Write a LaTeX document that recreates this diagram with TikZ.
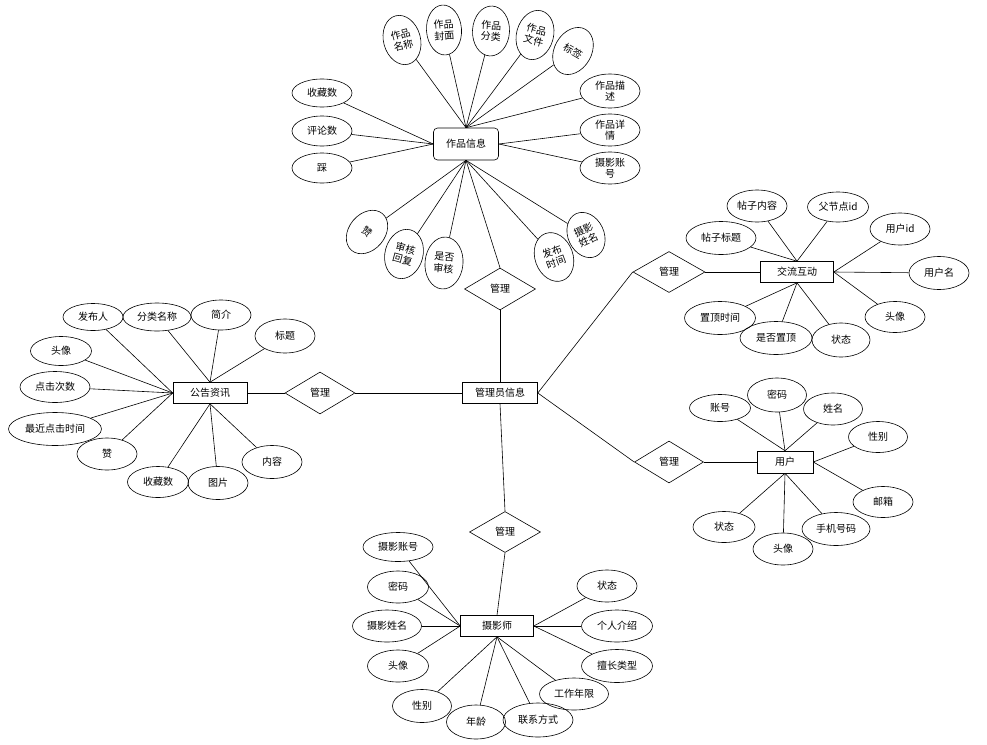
\documentclass[tikz,border=0pt]{standalone}
\usepackage{fontspec}
\setmainfont{Noto Sans CJK SC}
\usetikzlibrary{shapes.geometric}
\begin{document}
\begin{tikzpicture}[x=1pt,y=-1pt,line width=0.6pt,
  txt/.style={font=\fontsize{10}{11.5}\selectfont},
  attr/.style={txt,draw,ellipse,inner sep=0pt,minimum width=60pt,minimum height=32pt,align=center},
  vattr/.style={attr,minimum width=37pt,minimum height=50pt},
  ent/.style={txt,draw,rectangle,inner sep=0pt,minimum width=73pt,minimum height=21pt},
  rel/.style={txt,draw,diamond,inner sep=0pt,minimum width=71pt,minimum height=42pt}]
\fill[white] (0,0) rectangle (987,744);
\useasboundingbox (0,0) rectangle (987,744);

% ---------- 作品信息 ----------
\node[ent,rounded corners=4pt,minimum width=65pt,minimum height=32pt] (work) at (466,144) {作品信息};
\node[vattr,rotate=15] (w1) at (402,40) {作品\\名称};
\node[vattr,minimum width=35pt,rotate=4] (w2) at (444,30) {作品\\封面};
\node[vattr,rotate=-3] (w3) at (491,31) {作品\\分类};
\node[vattr,rotate=-15] (w4) at (535,35) {作品\\文件};
\node[vattr,rotate=-30] (w5) at (573,51) {标签};
\node[attr,minimum height=34pt] (w6) at (610,91) {作品描\\述};
\node[attr,minimum height=32pt] (w7) at (610,130) {作品详\\情};
\node[attr,minimum height=32pt] (w8) at (610,168) {摄影账\\号};
\node[attr,minimum height=28pt] (w9) at (322,93) {收藏数};
\node[attr,minimum height=30pt] (w10) at (322,131) {评论数};
\node[attr,minimum height=30pt] (w11) at (322,168) {踩};
\node[vattr,minimum width=36pt,minimum height=48pt,rotate=-40] (w12) at (367,232) {赞};
\node[vattr,minimum width=38pt,rotate=-15] (w13) at (404,254) {审核\\回复};
\node[vattr,minimum width=38pt,minimum height=52pt,rotate=-5] (w14) at (444,263) {是否\\审核};
\node[vattr,minimum width=38pt,rotate=20] (w15) at (554,257) {发布\\时间};
\node[vattr,minimum width=36pt,minimum height=47pt,rotate=25] (w16) at (586,235) {摄影\\姓名};
\foreach \n in {w1,w2,w3,w4,w5,w6} \draw (\n) -- (work.north);
\foreach \n in {w9,w10,w11} \draw (\n) -- (work.west);
\foreach \n in {w7,w8} \draw (\n) -- (work.east);
\foreach \n in {w12,w13,w14,w15,w16} \draw (\n) -- (work.south);

% ---------- 管理员信息 and relations ----------
\node[ent,minimum width=75pt] (admin) at (500,393) {管理员信息};
\node[rel] (m1) at (500,289) {管理};
\node[rel,minimum width=70pt] (m2) at (320,393) {管理};
\node[rel,minimum width=72pt,minimum height=41pt] (m3) at (669,272) {管理};
\node[rel,minimum width=69pt] (m4) at (669,462) {管理};
\node[rel,minimum height=41pt] (m5) at (505,532) {管理};
\draw (work.south) -- (m1.north);
\draw (m1.south) -- (admin.north);
\draw (admin.west) -- (m2.east);
\draw (admin.east) -- (m3.west);
\draw (admin.east) -- (m4.west);
\draw (admin.south) -- (m5.north);

% ---------- 公告资讯 ----------
\node[ent,minimum width=74pt] (news) at (210,393) {公告资讯};
\draw (m2.west) -- (news.east);
\node[attr,minimum height=27pt] (n1) at (93,317) {发布人};
\node[attr,minimum width=68pt,minimum height=28pt] (n2) at (157,317) {分类名称};
\node[attr,minimum height=30pt] (n3) at (221,315) {简介};
\node[attr,minimum height=34pt] (n4) at (285,336) {标题};
\node[attr,minimum width=61pt,minimum height=29pt] (n5) at (61,351) {头像};
\node[attr,minimum width=70pt,minimum height=31pt] (n6) at (55,387) {点击次数};
\node[attr,minimum width=93pt,minimum height=33pt] (n7) at (55,429) {最近点击时间};
\node[attr,minimum height=32pt] (n8) at (107,454) {赞};
\node[attr,minimum width=61pt,minimum height=31pt] (n9) at (158,482) {收藏数};
\node[attr,minimum height=33pt] (n10) at (218,483) {图片};
\node[attr,minimum height=33pt] (n11) at (272,462) {内容};
\foreach \n in {n1,n5,n6,n7,n8} \draw (\n) -- (news.west);
\foreach \n in {n2,n3,n4} \draw (\n) -- (news.north);
\foreach \n in {n9,n10,n11} \draw (\n) -- (news.south);

% ---------- 交流互动 ----------
\node[ent] (forum) at (797,272) {交流互动};
\draw (m3.east) -- (forum.west);
\node[attr] (f1) at (757,206) {帖子内容};
\node[attr,minimum width=61pt,minimum height=30pt] (f2) at (838,207) {父节点id};
\node[attr,minimum width=70pt,minimum height=33pt] (f3) at (721,238) {帖子标题};
\node[attr] (f4) at (900,229) {用户id};
\node[attr,minimum height=33pt] (f5) at (939,273) {用户名};
\node[attr,minimum height=31pt] (f6) at (895,317) {头像};
\node[attr,minimum width=71pt,minimum height=33pt] (f7) at (720,318) {置顶时间};
\node[attr,minimum width=72pt,minimum height=33pt] (f8) at (776,338) {是否置顶};
\node[attr,minimum width=58pt,minimum height=34pt] (f9) at (841,340) {状态};
\foreach \n in {f1,f2,f3} \draw (\n) -- (forum.north);
\foreach \n in {f4,f5,f6} \draw (\n) -- (forum.east);
\foreach \n in {f7,f8,f9} \draw (\n) -- (forum.south);

% ---------- 用户 ----------
\node[ent,minimum width=56pt,minimum height=22pt] (user) at (785,462) {用户};
\draw (m4.east) -- (user.west);
\node[attr,minimum width=61pt,minimum height=27pt] (u1) at (720,408) {账号};
\node[attr,minimum width=59pt,minimum height=34pt] (u2) at (777,395) {密码};
\node[attr,minimum width=59pt,minimum height=32pt] (u3) at (833,409) {姓名};
\node[attr,minimum width=59pt,minimum height=31pt] (u4) at (878,437) {性别};
\node[attr,minimum height=31pt] (u5) at (883,502) {邮箱};
\node[attr,minimum width=68pt,minimum height=33pt] (u6) at (836,529) {手机号码};
\node[attr,minimum height=32pt] (u7) at (783,549) {头像};
\node[attr,minimum width=62pt,minimum height=31pt] (u8) at (724,527) {状态};
\foreach \n in {u1,u2,u3} \draw (\n) -- (user.north);
\foreach \n in {u4,u5} \draw (\n) -- (user.east);
\foreach \n in {u6,u7,u8} \draw (\n) -- (user.south);

% ---------- 摄影师 ----------
\node[ent] (photo) at (497,626) {摄影师};
\draw (m5.south) -- (photo.north);
\node[attr,minimum width=70pt,minimum height=29pt] (p1) at (398,547) {摄影账号};
\node[attr,minimum width=61pt,minimum height=32pt] (p2) at (398,587) {密码};
\node[attr,minimum width=69pt,minimum height=32pt] (p3) at (387,626) {摄影姓名};
\node[attr,minimum width=61pt,minimum height=32pt] (p4) at (398,666) {头像};
\node[attr,minimum width=59pt,minimum height=33pt] (p5) at (422,706) {性别};
\node[attr,minimum width=59pt,minimum height=34pt] (p6) at (476,722) {年龄};
\node[attr,minimum width=70pt,minimum height=34pt] (p7) at (538,720) {联系方式};
\node[attr,minimum width=69pt,minimum height=32pt] (p8) at (574,694) {工作年限};
\node[attr,minimum width=71pt,minimum height=33pt] (p9) at (617,666) {擅长类型};
\node[attr,minimum width=71pt,minimum height=32pt] (p10) at (617,626) {个人介绍};
\node[attr,minimum height=32pt] (p11) at (607,586) {状态};
\foreach \n in {p1,p2,p3,p4} \draw (\n) -- (photo.west);
\foreach \n in {p5,p6,p7,p8} \draw (\n) -- (photo.south);
\foreach \n in {p9,p10,p11} \draw (\n) -- (photo.east);
\end{tikzpicture}
\end{document}
